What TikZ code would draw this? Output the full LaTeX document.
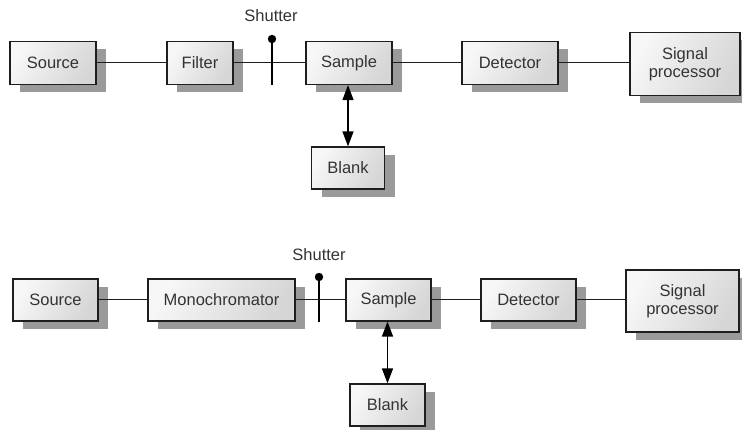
\documentclass[tikz,border=0pt]{standalone}
\usepackage{fontspec}
\setmainfont{Liberation Sans}
\usetikzlibrary{arrows.meta,shadows}
\definecolor{boxline}{HTML}{1E1E1E}
\definecolor{boxshadow}{HTML}{9A9A9A}
\definecolor{boxlight}{HTML}{F7F7F7}
\definecolor{boxdark}{HTML}{D6D6D6}
\definecolor{labeltext}{HTML}{333333}
\tikzset{
  unitbox/.style={draw=boxline, line width=1.2pt,
    left color=boxlight, right color=boxdark, shading angle=60,
    drop shadow={shadow xshift=10pt, shadow yshift=-8pt, fill=boxshadow, opacity=1},
    font=\fontsize{16.5}{18.5}\selectfont, text=labeltext, align=center,
    inner sep=0pt},
  link/.style={draw=boxline, line width=1pt},
  twoway/.style={draw=black, line width=1.3pt,
    {Stealth[length=15pt,width=11pt,inset=0pt]}-{Stealth[length=15pt,width=11pt,inset=0pt]}},
  shutterbar/.style={draw=black, line width=2.6pt},
  tag/.style={font=\fontsize{16.5}{18.5}\selectfont, text=labeltext}
}
\begin{document}
\begin{tikzpicture}[x=1pt,y=-1pt]
\useasboundingbox (0,0) rectangle (742,430);

% ---- upper chain: filter instrument ----
\node[unitbox, minimum width=86pt, minimum height=43pt] (src1) at (53,63) {Source};
\node[unitbox, minimum width=66pt, minimum height=43pt] (flt1) at (200,63) {Filter};
\node[unitbox, minimum width=86pt, minimum height=43pt] (smp1) at (349,63) {Sample};
\node[unitbox, minimum width=96pt, minimum height=43pt] (det1) at (510,63) {Detector};
\node[unitbox, minimum width=110pt, minimum height=63pt] (sig1) at (685,64) {Signal\\[-1pt]processor};
\node[unitbox, minimum width=73pt, minimum height=42pt] (blk1) at (348,168) {Blank};

\draw[link] (src1) -- (flt1);
\draw[link] (flt1) -- (smp1);
\draw[link] (smp1) -- (det1);
\draw[link] (det1.east) -- (det1.east -| sig1.west);

\coordinate (sh1top) at (272,39);
\coordinate (sh1bot) at (272,85);
\draw[shutterbar] (sh1top) -- (sh1bot);
\fill (sh1top) circle (4.2pt);
\node[tag] (sh1lbl) at (271,16) {Shutter};

\draw[twoway] (smp1.south -| blk1.north) -- (blk1.north);

% ---- lower chain: monochromator instrument ----
\node[unitbox, minimum width=85pt, minimum height=42pt] (src2) at (55.5,300) {Source};
\node[unitbox, minimum width=147pt, minimum height=42pt] (mono2) at (221.5,300) {Monochromator};
\node[unitbox, minimum width=85pt, minimum height=42pt] (smp2) at (388.5,300) {Sample};
\node[unitbox, minimum width=95pt, minimum height=42pt] (det2) at (528.5,300) {Detector};
\node[unitbox, minimum width=113pt, minimum height=62pt] (sig2) at (682.5,301) {Signal\\[-1pt]processor};
\node[unitbox, minimum width=75pt, minimum height=42pt] (blk2) at (387.5,405) {Blank};

\draw[link] (src2) -- (mono2);
\draw[link] (mono2) -- (smp2);
\draw[link] (smp2) -- (det2);
\draw[link] (det2.east) -- (det2.east -| sig2.west);

\coordinate (sh2top) at (319,277);
\coordinate (sh2bot) at (319,322);
\draw[shutterbar] (sh2top) -- (sh2bot);
\fill (sh2top) circle (4.2pt);
\node[tag] (sh2lbl) at (319,255) {Shutter};

\draw[twoway] (smp2.south -| blk2.north) -- (blk2.north);
\end{tikzpicture}
\end{document}
